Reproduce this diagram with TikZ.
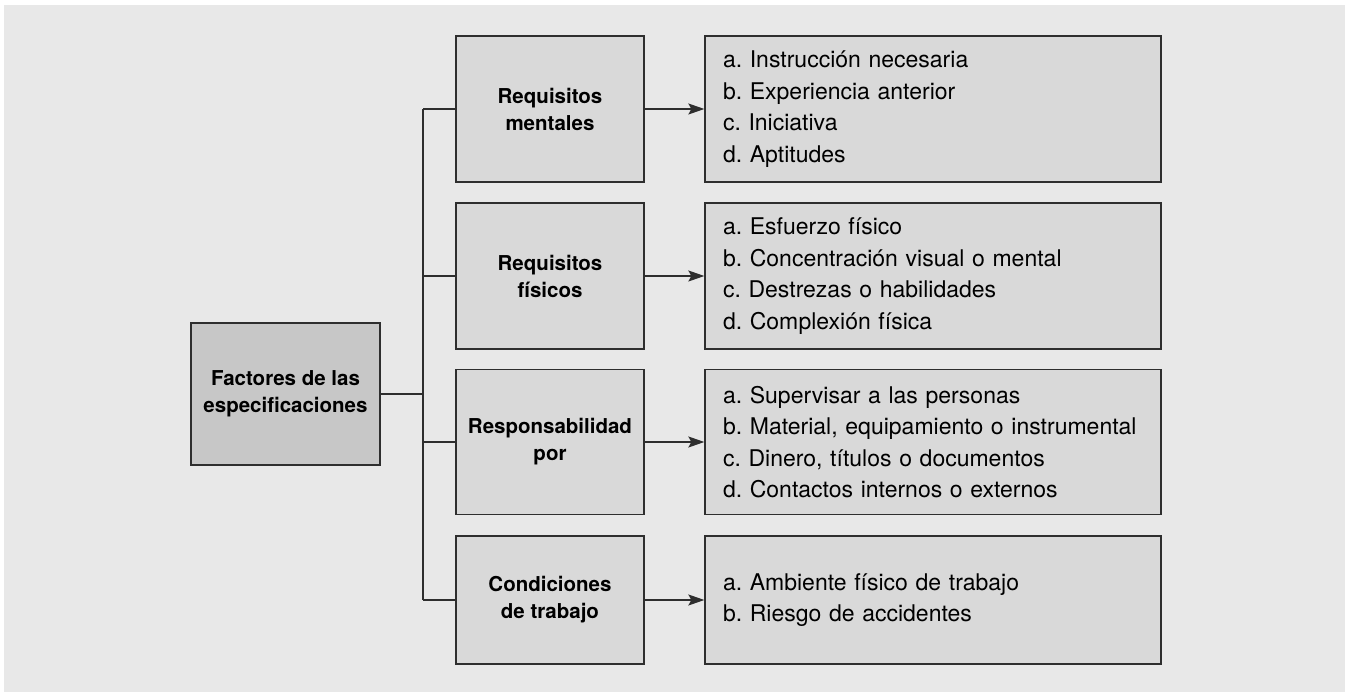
\documentclass[tikz,border=0pt]{standalone}
\usepackage{fontspec}
\setmainfont{TeX Gyre Heros}
\usepackage{tikz}
\usetikzlibrary{arrows.meta,positioning}
\frenchspacing

\definecolor{panelgray}{HTML}{E8E8E8}
\definecolor{boxgray}{HTML}{D9D9D9}
\definecolor{rootgray}{HTML}{C7C7C7}
\definecolor{edgegray}{HTML}{2E2E2E}

\begin{document}
\begin{tikzpicture}[
  x=1pt, y=-1pt,
  >={Stealth[length=16pt, width=11pt, inset=3pt]},
  rootbox/.style={draw=edgegray, line width=1.3pt, fill=rootgray, minimum width=189pt, minimum height=142pt, align=center, font=\fontsize{20.5}{27}\selectfont\bfseries},
  factorbox/.style={draw=edgegray, line width=1.3pt, fill=boxgray, minimum width=188pt, minimum height=146pt, align=center, font=\fontsize{20.5}{27}\selectfont\bfseries},
  listbox/.style={draw=edgegray, line width=1.3pt, fill=boxgray, text width=420pt, inner xsep=18pt, minimum height=146pt, align=left, font=\fontsize{23}{31.5}\selectfont},
  wire/.style={draw=edgegray, line width=1.3pt},
  arrowwire/.style={->, draw=edgegray, line width=1.3pt}
]
\useasboundingbox (0,0) rectangle (1345,692);
\fill[panelgray] (4,5) rectangle (1345,692);

% Root
\node[rootbox] (root) at (285.5,394) {Factores de las\\especificaciones};

% Factors
\node[factorbox] (mental) at (550,109) {Requisitos\\mentales};
\node[factorbox] (fisico) at (550,276) {Requisitos\\f\'isicos};
\node[factorbox, minimum height=145pt] (resp) at (550,442) {Responsabilidad\\por};
\node[factorbox, minimum height=128pt] (cond) at (550,600) {Condiciones\\de trabajo};

% Lists
\node[listbox] (mental_L) at (933,109) {a. Instrucci\'on necesaria\\b. Experiencia anterior\\c. Iniciativa\\d. Aptitudes};
\node[listbox] (fisico_L) at (933,276) {a. Esfuerzo f\'isico\\b. Concentraci\'on visual o mental\\c. Destrezas o habilidades\\d. Complexi\'on f\'isica};
\node[listbox, minimum height=145pt] (resp_L) at (933,442) {a. Supervisar a las personas\\b. Material, equipamiento o instrumental\\c. Dinero, t\'itulos o documentos\\d. Contactos internos o externos};
\node[listbox, minimum height=128pt] (cond_L) at (933,600) {a. Ambiente f\'isico de trabajo\\b. Riesgo de accidentes};

% Trunk
\coordinate (trunk_top) at (423,109);
\coordinate (trunk_bot) at (423,600);
\draw[wire] (trunk_top) -- (trunk_bot);
\draw[wire] (root.east) -- (root.east -| trunk_top);

% Branches
\draw[wire] (trunk_top) -- (mental.west);
\draw[wire] (fisico.west -| trunk_top) -- (fisico.west);
\draw[wire] (resp.west -| trunk_top) -- (resp.west);
\draw[wire] (trunk_bot) -- (cond.west);

\draw[arrowwire] (mental) -- (mental_L);
\draw[arrowwire] (fisico) -- (fisico_L);
\draw[arrowwire] (resp) -- (resp_L);
\draw[arrowwire] (cond) -- (cond_L);
\end{tikzpicture}
\end{document}
